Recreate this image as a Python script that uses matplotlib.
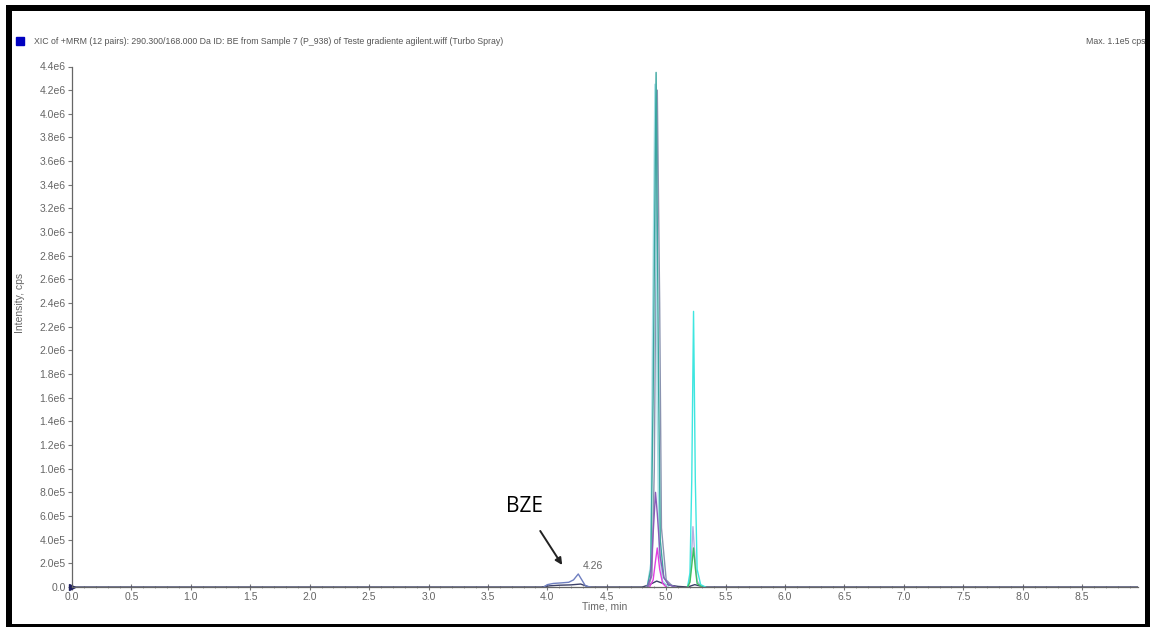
import matplotlib
matplotlib.use("Agg")
import matplotlib.pyplot as plt
from matplotlib.patches import Rectangle
from matplotlib.ticker import MultipleLocator, FuncFormatter

plt.rcParams['font.family'] = ['Liberation Sans', 'DejaVu Sans']

# Extracted ion chromatogram traces (time in min, intensity in cps)
baseline_t = [0.0, 3.95, 4.02, 4.10, 4.20, 4.28, 4.35, 4.80, 4.86, 4.92, 5.00, 5.10, 5.18, 5.24, 5.32, 8.97]
baseline_i = [0, 0, 0.010e6, 0.015e6, 0.018e6, 0.025e6, 0, 0, 0.02e6, 0.05e6, 0.02e6, 0.005e6, 0, 0.02e6, 0, 0]

bze_t = [3.97, 4.00, 4.05, 4.12, 4.18, 4.22, 4.26, 4.29, 4.32, 4.36]
bze_i = [0, 0.020e6, 0.030e6, 0.035e6, 0.040e6, 0.060e6, 0.110e6, 0.060e6, 0.010e6, 0]

teal_t = [4.84, 4.87, 4.89, 4.915, 4.935, 4.95, 4.98, 5.02, 5.08]
teal_i = [0, 0.15e6, 1.6e6, 4.35e6, 1.8e6, 0.40e6, 0.08e6, 0.02e6, 0]

lightcyan_t = [4.84, 4.87, 4.885, 4.905, 4.925, 4.94, 4.97, 5.02]
lightcyan_i = [0, 0.2e6, 2.2e6, 4.25e6, 1.4e6, 0.3e6, 0.05e6, 0]

grayblue_t = [4.85, 4.88, 4.90, 4.925, 4.945, 4.96, 5.00, 5.06]
grayblue_i = [0, 0.1e6, 1.0e6, 4.20e6, 2.4e6, 0.5e6, 0.06e6, 0]

purple_t = [4.84, 4.87, 4.89, 4.91, 4.925, 4.95, 4.98, 5.02, 5.08]
purple_i = [0, 0.08e6, 0.45e6, 0.80e6, 0.62e6, 0.25e6, 0.08e6, 0.02e6, 0]

magenta_t = [4.86, 4.89, 4.91, 4.925, 4.945, 4.97, 5.00]
magenta_i = [0, 0.06e6, 0.22e6, 0.33e6, 0.15e6, 0.03e6, 0]

cyan_t = [5.18, 5.20, 5.215, 5.23, 5.245, 5.26, 5.29, 5.33]
cyan_i = [0, 0.12e6, 0.9e6, 2.33e6, 0.9e6, 0.15e6, 0.02e6, 0]

lavender_t = [5.18, 5.20, 5.215, 5.225, 5.24, 5.26, 5.30]
lavender_i = [0, 0.06e6, 0.30e6, 0.51e6, 0.28e6, 0.05e6, 0]

green_t = [5.18, 5.20, 5.215, 5.23, 5.245, 5.26, 5.30]
green_i = [0, 0.04e6, 0.18e6, 0.33e6, 0.16e6, 0.03e6, 0]

traces = [
    (baseline_t, baseline_i, '#3c4068'),
    (bze_t, bze_i, '#6f7fc0'),
    (grayblue_t, grayblue_i, '#8a93b0'),
    (lightcyan_t, lightcyan_i, '#a8dfe8'),
    (teal_t, teal_i, '#3aa6a0'),
    (purple_t, purple_i, '#8a5cb8'),
    (magenta_t, magenta_i, '#e040e0'),
    (lavender_t, lavender_i, '#b4aee0'),
    (cyan_t, cyan_i, '#3ee6e0'),
    (green_t, green_i, '#3cc060'),
]

apex_label = "4.26"
apex_time = 4.26
apex_value = 0.110e6

title = "XIC of +MRM (12 pairs): 290.300/168.000 Da ID: BE from Sample 7 (P_938) of Teste gradiente agilent.wiff (Turbo Spray)"
max_text = "Max. 1.1e5 cps"

W, H = 1150, 628
fig = plt.figure(figsize=(W / 100, H / 100), dpi=100)
fig.patch.set_facecolor('white')

ax_left, ax_right = 72, 1138
ax_bottom, ax_top = 587, 66.5
ax = fig.add_axes([ax_left / W, 1 - ax_bottom / H, (ax_right - ax_left) / W, (ax_bottom - ax_top) / H])

for t, i, c in traces:
    ax.plot(t, i, color=c, lw=1.0, solid_joinstyle='round')

ax.plot([0], [0], marker='>', color='#202060', ms=4, clip_on=False)

ax.set_xlim(0, 8.97)
ax.set_ylim(0, 4.4e6)

for s in ['top', 'right']:
    ax.spines[s].set_visible(False)
for s in ['left', 'bottom']:
    ax.spines[s].set_color('#666666')
    ax.spines[s].set_linewidth(0.9)

ax.xaxis.set_major_locator(MultipleLocator(0.5))
ax.xaxis.set_minor_locator(MultipleLocator(0.1))
ax.yaxis.set_major_locator(MultipleLocator(0.2e6))


def yfmt(v, pos):
    if abs(v) < 1:
        return "0.0"
    if v < 1e6 - 1:
        return f"{v / 1e5:.1f}e5"
    return f"{v / 1e6:.1f}e6"


ax.yaxis.set_major_formatter(FuncFormatter(yfmt))
ax.xaxis.set_major_formatter(FuncFormatter(lambda v, p: f"{v:.1f}"))

ax.tick_params(axis='both', which='major', labelsize=7.5, colors='#777777', labelcolor='#666666',
               length=3, width=0.8, pad=1.5)
ax.tick_params(axis='x', which='major', direction='inout', length=4)
ax.tick_params(axis='x', which='minor', direction='inout', length=2, width=0.6, colors='#888888')

ax.set_xlabel("Time, min", fontsize=7.5, color='#666666', labelpad=0)
ax.set_ylabel("Intensity, cps", fontsize=7.5, color='#666666')
ax.yaxis.set_label_coords(-0.044, 0.545)

# apex label of the BZE peak
ax.annotate(apex_label, xy=(apex_time, apex_value), xytext=(3, 2), textcoords='offset points',
            fontsize=7.5, color='#666666', ha='left', va='bottom')

# compound callout
ax.annotate("BZE", xy=((562 - ax_left) / 118.8, (587 - 565) / 118.3 * 1e6),
            xytext=((524 - ax_left) / 118.8, (587 - 506) / 118.3 * 1e6),
            fontsize=15, fontfamily=['Open Sans', 'DejaVu Sans'], color='black', ha='center', va='center',
            arrowprops=dict(arrowstyle='-|>', color='#222222', lw=1.4, shrinkA=10, shrinkB=0,
                            mutation_scale=10))

# header line
fig.add_artist(Rectangle((16 / W, 1 - 45 / H), 8 / W, 8 / H, transform=fig.transFigure,
                         facecolor='#0000c0', edgecolor='#0000c0'))
fig.text(34 / W, 1 - 41 / H, title, fontsize=6.3, color='#555555', ha='left', va='center')
fig.text(1145 / W, 1 - 41 / H, max_text, fontsize=6.3, color='#555555', ha='right', va='center')

# outer black frame
for x0, y0, x1, y1 in [(6, 5, 12, 627), (6, 5, 1150, 11), (1145, 5, 1150, 627), (6, 624, 1150, 627)]:
    fig.add_artist(Rectangle((x0 / W, 1 - y1 / H), (x1 - x0) / W, (y1 - y0) / H,
                             transform=fig.transFigure, facecolor='black', edgecolor='none'))

fig.savefig("out.png", dpi=100)
